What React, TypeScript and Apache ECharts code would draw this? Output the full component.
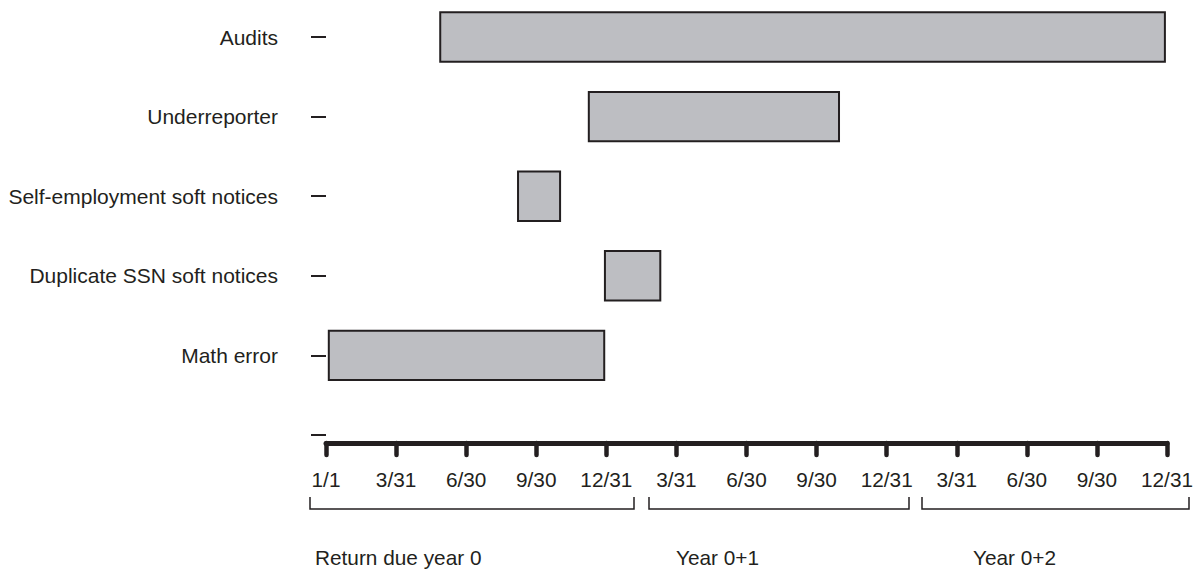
import React, { useEffect, useRef } from "react";
import * as echarts from "echarts";

// Programs (bottom-to-top order on the category axis; first entry is the empty baseline row)
const categories = [
  "",
  "Math error",
  "Duplicate SSN soft notices",
  "Self-employment soft notices",
  "Underreporter",
  "Audits",
];

// Start / end of each window, in quarters from 1/1 of year 0
const programNames = [
  "Audits",
  "Underreporter",
  "Self-employment soft notices",
  "Duplicate SSN soft notices",
  "Math error",
];
const startQuarter = [1.63, 3.75, 2.74, 3.98, 0.04];
const endQuarter = [11.97, 7.32, 3.34, 4.77, 3.97];

// Quarter-end tick labels across three years
const tickLabels = [
  "1/1", "3/31", "6/30", "9/30", "12/31",
  "3/31", "6/30", "9/30", "12/31",
  "3/31", "6/30", "9/30", "12/31",
];

const yearLabels = ["Return due year 0", "Year 0+1", "Year 0+2"];

const FONT = "'Liberation Sans', Arial, Helvetica, sans-serif";
const INK = "#231f20";

export default function App() {
  const ref = useRef<HTMLDivElement>(null);

  useEffect(() => {
    if (!ref.current) return;
    const chart = echarts.init(ref.current, undefined, { renderer: "svg" });

    const data = programNames.map((name, i) => [
      categories.indexOf(name),
      startQuarter[i],
      endQuarter[i],
    ]);

    const bracketLines = [
      [[310, 497], [310, 509], [634, 509], [634, 497]],
      [[649, 497], [649, 509], [909, 509], [909, 497]],
      [[922, 497], [922, 509], [1189, 509], [1189, 497]],
    ];
    const yearLabelX = [315, 676, 973];

    chart.setOption({
      animation: false,
      grid: { left: 326, right: 37, top: 37, bottom: 134, containLabel: false },
      xAxis: {
        type: "value",
        min: 0,
        max: 12,
        interval: 1,
        position: "bottom",
        offset: 8,
        axisLine: {
          show: true,
          lineStyle: { color: INK, width: 5, cap: "round" },
        },
        axisTick: {
          show: true,
          length: 12,
          lineStyle: { color: INK, width: 4.5, cap: "round" },
        },
        axisLabel: {
          margin: 26,
          fontSize: 20.8,
          fontFamily: FONT,
          color: INK,
          formatter: (v: number) => tickLabels[Math.round(v)] ?? "",
        },
        splitLine: { show: false },
      },
      yAxis: {
        type: "category",
        data: categories,
        boundaryGap: false,
        offset: 4,
        axisLine: { show: false },
        axisTick: {
          show: true,
          length: 15,
          lineStyle: { color: INK, width: 2 },
        },
        axisLabel: {
          margin: 44,
          fontSize: 21,
          fontFamily: FONT,
          color: INK,
        },
        splitLine: { show: false },
      },
      series: [
        {
          type: "custom",
          data,
          encode: { x: [1, 2], y: 0 },
          renderItem: (params: any, api: any) => {
            const cat = api.value(0);
            const p0 = api.coord([api.value(1), cat]);
            const p1 = api.coord([api.value(2), cat]);
            const h = api.size([0, 1])[1] * 0.62;
            return {
              type: "rect",
              shape: { x: p0[0], y: p0[1] - h / 2, width: p1[0] - p0[0], height: h },
              style: { fill: "#bdbec2", stroke: INK, lineWidth: 2 },
            };
          },
        },
      ],
      graphic: [
        ...bracketLines.map((pts) => ({
          type: "polyline",
          shape: { points: pts },
          style: { stroke: INK, lineWidth: 1.5, fill: "none" },
          silent: true,
        })),
        ...yearLabels.map((t, i) => ({
          type: "text",
          x: yearLabelX[i],
          y: 557,
          style: {
            text: t,
            fontSize: 20.8,
            fontFamily: FONT,
            fill: INK,
            verticalAlign: "middle",
            align: "left",
          },
          silent: true,
        })),
      ],
    });

    return () => chart.dispose();
  }, []);

  return (
    <div
      ref={ref}
      style={{ position: "absolute", left: 0, top: 0, width: 1204, height: 569 }}
    />
  );
}
